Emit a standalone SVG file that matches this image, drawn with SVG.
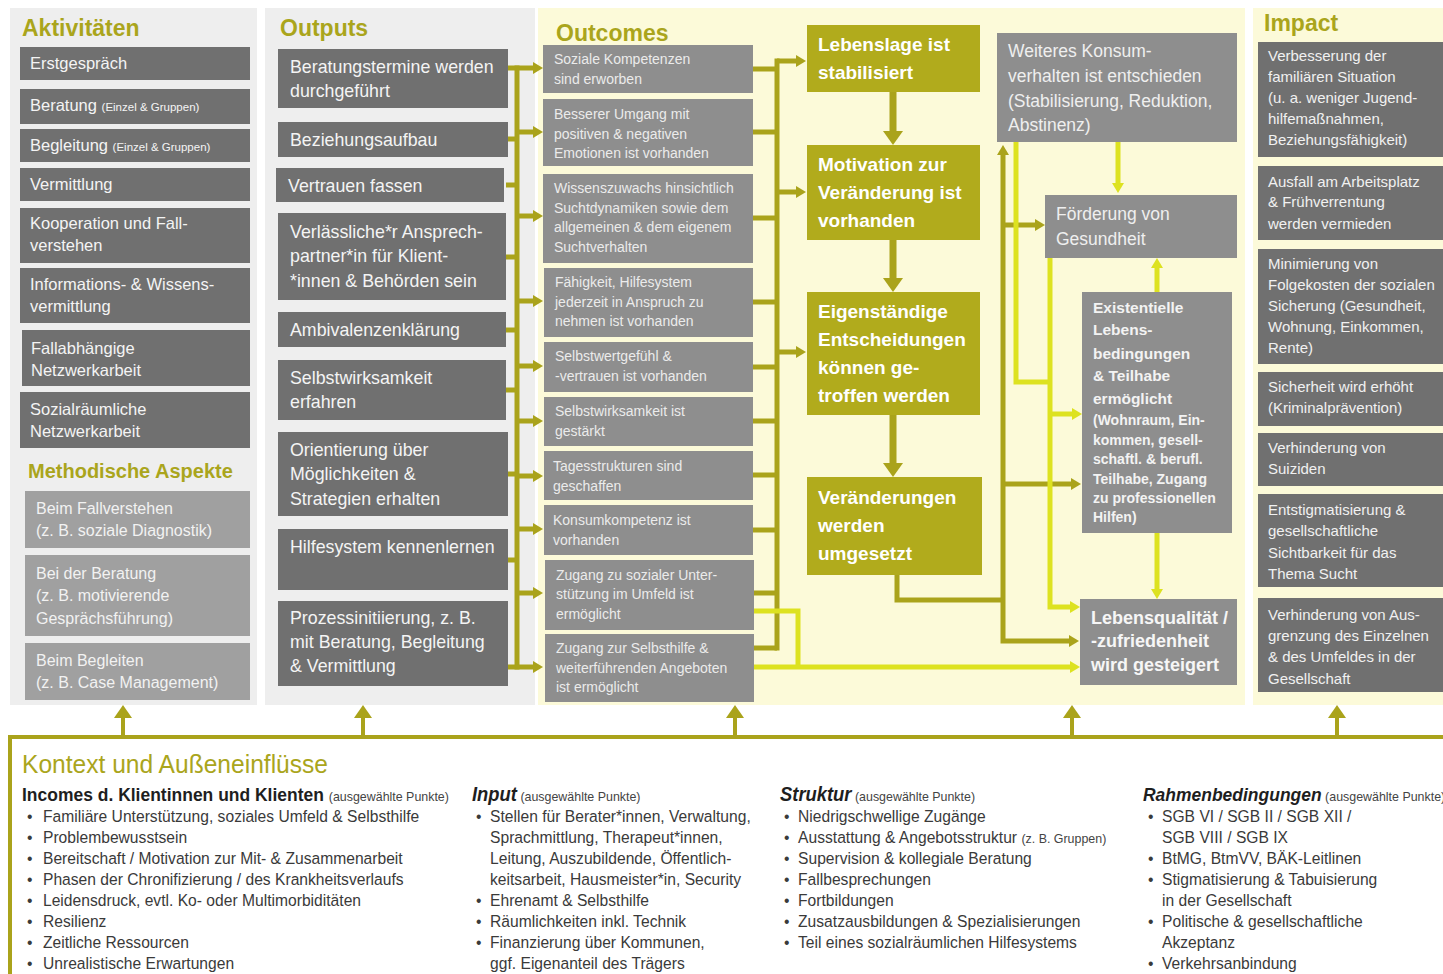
<svg xmlns="http://www.w3.org/2000/svg" width="1443" height="974" viewBox="0 0 1443 974">
<defs>
<style>
text{font-family:'Liberation Sans',Arial,sans-serif}
.h{font-weight:bold;font-size:23px;fill:#aaa51c}
.pg{fill:#eeeeee}
.py{fill:#fcfad9}
.dk{fill:#707070}
.md{fill:#8e8e8e}
.lt{fill:#a0a0a0}
.ol{fill:#b1ab1c}
.ta{font-size:16.5px;fill:#f4f4f4}
.sm{font-size:11.5px}
.tm{font-size:16px;fill:#f2f2f2}
.to{font-size:17.8px;fill:#f4f4f4}
.tc{font-size:14px;fill:#ebebeb}
.tb{font-size:19px;font-weight:bold;fill:#ffffff}
.tr{font-size:17.5px;fill:#efefef}
.te{font-size:15.5px;font-weight:bold;fill:#f3f3f3}
.te2{font-size:14px;font-weight:bold;fill:#f3f3f3}
.tl{font-size:18px;font-weight:bold;fill:#f6f6f6}
.ti{font-size:15px;fill:#f1f1f1}
.co{fill:none;stroke:#aaa31b;stroke-width:5}
.cy{fill:none;stroke:#dde220;stroke-width:5}
.cb{fill:none;stroke:#aaa31b;stroke-width:7}
.cf{fill:none;stroke:#aaa31b;stroke-width:4}
.bt{font-size:17px;fill:#3a3a3a}
.bh{font-size:19px;font-weight:bold;fill:#1e1e1e}
.bi{font-size:20px;font-weight:bold;font-style:italic;fill:#1e1e1e}
.bs{font-size:13.5px;font-weight:normal;font-style:normal;fill:#444444}
.kt{font-size:25px;fill:#aaa51c}
</style>
<marker id="aO" viewBox="0 0 10 10" refX="0" refY="5" markerWidth="10" markerHeight="12" markerUnits="userSpaceOnUse" orient="auto" preserveAspectRatio="none"><path d="M0,0L10,5L0,10z" fill="#aaa31b"/></marker>
<marker id="aOs" viewBox="0 0 10 10" refX="0" refY="5" markerWidth="10" markerHeight="12" markerUnits="userSpaceOnUse" orient="auto-start-reverse" preserveAspectRatio="none"><path d="M0,0L10,5L0,10z" fill="#aaa31b"/></marker>
<marker id="aY" viewBox="0 0 10 10" refX="0" refY="5" markerWidth="10" markerHeight="12" markerUnits="userSpaceOnUse" orient="auto" preserveAspectRatio="none"><path d="M0,0L10,5L0,10z" fill="#dde220"/></marker>
<marker id="aOB" viewBox="0 0 10 10" refX="0" refY="5" markerWidth="14" markerHeight="20" markerUnits="userSpaceOnUse" orient="auto" preserveAspectRatio="none"><path d="M0,0L10,5L0,10z" fill="#aaa31b"/></marker>
<marker id="aF" viewBox="0 0 10 10" refX="0" refY="5" markerWidth="13" markerHeight="18" markerUnits="userSpaceOnUse" orient="auto" preserveAspectRatio="none"><path d="M0,0L10,5L0,10z" fill="#aaa31b"/></marker>
</defs>
<rect width="1443" height="974" fill="#ffffff"/>
<g id="panels">
<rect class="pg" x="10" y="8" width="247" height="697"/>
<rect class="pg" x="265" y="8" width="270" height="697"/>
<rect class="py" x="538" y="8" width="707" height="697"/>
<rect class="py" x="1253" y="8" width="190" height="697"/>
</g>
<g id="titles">
<text class="h" x="22" y="36">Aktivitäten</text>
<text class="h" x="280" y="36">Outputs</text>
<text class="h" x="556" y="41">Outcomes</text>
<text class="h" x="1264" y="31">Impact</text>
<text class="h" x="28" y="478" style="font-size:20px">Methodische Aspekte</text>
</g>
<g id="aktivitaeten">
<g id="a1"><rect class="dk" x="20" y="47" width="230" height="33"/><text class="ta" x="30" y="69">Erstgespräch</text></g>
<g id="a2"><rect class="dk" x="20" y="89" width="230" height="35"/><text class="ta" x="30" y="111">Beratung <tspan class="sm">(Einzel &amp; Gruppen)</tspan></text></g>
<g id="a3"><rect class="dk" x="20" y="129" width="230" height="33"/><text class="ta" x="30" y="151">Begleitung <tspan class="sm">(Einzel &amp; Gruppen)</tspan></text></g>
<g id="a4"><rect class="dk" x="20" y="168" width="230" height="33"/><text class="ta" x="30" y="190">Vermittlung</text></g>
<g id="a5"><rect class="dk" x="20" y="208" width="230" height="55"/><text class="ta" x="30" y="229">Kooperation und Fall-</text><text class="ta" x="30" y="251">verstehen</text></g>
<g id="a6"><rect class="dk" x="20" y="268" width="230" height="55"/><text class="ta" x="30" y="290">Informations- &amp; Wissens-</text><text class="ta" x="30" y="312">vermittlung</text></g>
<g id="a7"><rect class="dk" x="22" y="330" width="228" height="56"/><text class="ta" x="31" y="354">Fallabhängige</text><text class="ta" x="31" y="376">Netzwerkarbeit</text></g>
<g id="a8"><rect class="dk" x="20" y="392" width="230" height="56"/><text class="ta" x="30" y="415">Sozialräumliche</text><text class="ta" x="30" y="437">Netzwerkarbeit</text></g>
<g id="m1"><rect class="lt" x="25" y="491" width="225" height="57"/><text class="tm" x="36" y="514">Beim Fallverstehen</text><text class="tm" x="36" y="536">(z. B. soziale Diagnostik)</text></g>
<g id="m2"><rect class="lt" x="25" y="555" width="225" height="81"/><text class="tm" x="36" y="579">Bei der Beratung</text><text class="tm" x="36" y="601">(z. B. motivierende</text><text class="tm" x="36" y="624">Gesprächsführung)</text></g>
<g id="m3"><rect class="lt" x="25" y="643" width="225" height="57"/><text class="tm" x="36" y="666">Beim Begleiten</text><text class="tm" x="36" y="688">(z. B. Case Management)</text></g>
</g>
<g id="outputs">
<g id="o1"><rect class="dk" x="278" y="49" width="230" height="59"/><text class="to" x="290" y="73">Beratungstermine werden</text><text class="to" x="290" y="97">durchgeführt</text></g>
<g id="o2"><rect class="dk" x="278" y="122" width="230" height="35"/><text class="to" x="290" y="146">Beziehungsaufbau</text></g>
<g id="o3"><rect class="dk" x="276" y="168" width="228" height="34"/><text class="to" x="288" y="192">Vertrauen fassen</text></g>
<g id="o4"><rect class="dk" x="278" y="213" width="228" height="87"/><text class="to" x="290" y="238">Verlässliche*r Ansprech-</text><text class="to" x="290" y="262">partner*in für Klient-</text><text class="to" x="290" y="287">*innen &amp; Behörden sein</text></g>
<g id="o5"><rect class="dk" x="278" y="312" width="228" height="35"/><text class="to" x="290" y="336">Ambivalenzenklärung</text></g>
<g id="o6"><rect class="dk" x="278" y="360" width="228" height="60"/><text class="to" x="290" y="384">Selbstwirksamkeit</text><text class="to" x="290" y="408">erfahren</text></g>
<g id="o7"><rect class="dk" x="278" y="432" width="230" height="84"/><text class="to" x="290" y="456">Orientierung über</text><text class="to" x="290" y="480">Möglichkeiten &amp;</text><text class="to" x="290" y="505">Strategien erhalten</text></g>
<g id="o8"><rect class="dk" x="278" y="529" width="230" height="61"/><text class="to" x="290" y="553">Hilfesystem kennenlernen</text></g>
<g id="o9"><rect class="dk" x="278" y="601" width="230" height="85"/><text class="to" x="290" y="624">Prozessinitiierung, z. B.</text><text class="to" x="290" y="648">mit Beratung, Begleitung</text><text class="to" x="290" y="672">&amp; Vermittlung</text></g>
</g>
<g id="outcomes">
<g id="c1"><rect class="md" x="543" y="45" width="210" height="48"/><text class="tc" x="554" y="64">Soziale Kompetenzen</text><text class="tc" x="554" y="84">sind erworben</text></g>
<g id="c2"><rect class="md" x="543" y="99" width="210" height="67"/><text class="tc" x="554" y="119">Besserer Umgang mit</text><text class="tc" x="554" y="139">positiven &amp; negativen</text><text class="tc" x="554" y="158">Emotionen ist vorhanden</text></g>
<g id="c3"><rect class="md" x="543" y="174" width="210" height="89"/><text class="tc" x="554" y="193">Wissenszuwachs hinsichtlich</text><text class="tc" x="554" y="213">Suchtdynamiken sowie dem</text><text class="tc" x="554" y="232">allgemeinen &amp; dem eigenem</text><text class="tc" x="554" y="252">Suchtverhalten</text></g>
<g id="c4"><rect class="md" x="544" y="268" width="209" height="69"/><text class="tc" x="555" y="287">Fähigkeit, Hilfesystem</text><text class="tc" x="555" y="307">jederzeit in Anspruch zu</text><text class="tc" x="555" y="326">nehmen ist vorhanden</text></g>
<g id="c5"><rect class="md" x="544" y="342" width="209" height="50"/><text class="tc" x="555" y="361">Selbstwertgefühl &amp;</text><text class="tc" x="555" y="381">-vertrauen ist vorhanden</text></g>
<g id="c6"><rect class="md" x="544" y="397" width="209" height="49"/><text class="tc" x="555" y="416">Selbstwirksamkeit ist</text><text class="tc" x="555" y="436">gestärkt</text></g>
<g id="c7"><rect class="md" x="544" y="451" width="209" height="49"/><text class="tc" x="553" y="471">Tagesstrukturen sind</text><text class="tc" x="553" y="491">geschaffen</text></g>
<g id="c8"><rect class="md" x="544" y="505" width="209" height="50"/><text class="tc" x="553" y="525">Konsumkompetenz ist</text><text class="tc" x="553" y="545">vorhanden</text></g>
<g id="c9"><rect class="md" x="545" y="560" width="209" height="70"/><text class="tc" x="556" y="580">Zugang zu sozialer Unter-</text><text class="tc" x="556" y="599">stützung im Umfeld ist</text><text class="tc" x="556" y="619">ermöglicht</text></g>
<g id="c10"><rect class="md" x="545" y="634" width="209" height="68"/><text class="tc" x="556" y="653">Zugang zur Selbsthilfe &amp;</text><text class="tc" x="556" y="673">weiterführenden Angeboten</text><text class="tc" x="556" y="692">ist ermöglicht</text></g>
</g>
<g id="olive">
<g id="v1"><rect class="ol" x="807" y="25" width="173" height="67"/><text class="tb" x="818" y="51">Lebenslage ist</text><text class="tb" x="818" y="79">stabilisiert</text></g>
<g id="v2"><rect class="ol" x="807" y="145" width="173" height="95"/><text class="tb" x="818" y="171">Motivation zur</text><text class="tb" x="818" y="199">Veränderung ist</text><text class="tb" x="818" y="227">vorhanden</text></g>
<g id="v3"><rect class="ol" x="807" y="292" width="173" height="123"/><text class="tb" x="818" y="318">Eigenständige</text><text class="tb" x="818" y="346">Entscheidungen</text><text class="tb" x="818" y="374">können ge-</text><text class="tb" x="818" y="402">troffen werden</text></g>
<g id="v4"><rect class="ol" x="807" y="477" width="175" height="98"/><text class="tb" x="818" y="504">Veränderungen</text><text class="tb" x="818" y="532">werden</text><text class="tb" x="818" y="560">umgesetzt</text></g>
</g>
<g id="right">
<g id="r1"><rect class="md" x="997" y="33" width="240" height="109"/><text class="tr" x="1008" y="57">Weiteres Konsum-</text><text class="tr" x="1008" y="82">verhalten ist entschieden</text><text class="tr" x="1008" y="107">(Stabilisierung, Reduktion,</text><text class="tr" x="1008" y="131">Abstinenz)</text></g>
<g id="r2"><rect class="md" x="1045" y="195" width="192" height="63"/><text class="tr" x="1056" y="220">Förderung von</text><text class="tr" x="1056" y="245">Gesundheit</text></g>
<g id="r3"><rect class="md" x="1082" y="292" width="150" height="241"/><text class="te" x="1093" y="313">Existentielle</text><text class="te" x="1093" y="335">Lebens-</text><text class="te" x="1093" y="359">bedingungen</text><text class="te" x="1093" y="381">&amp; Teilhabe</text><text class="te" x="1093" y="404">ermöglicht</text><text class="te2" x="1093" y="425">(Wohnraum, Ein-</text><text class="te2" x="1093" y="445">kommen, gesell-</text><text class="te2" x="1093" y="464">schaftl. &amp; berufl.</text><text class="te2" x="1093" y="484">Teilhabe, Zugang</text><text class="te2" x="1093" y="503">zu professionellen</text><text class="te2" x="1093" y="522">Hilfen)</text></g>
<g id="r4"><rect class="md" x="1080" y="599" width="157" height="86"/><text class="tl" x="1091" y="624">Lebensqualität /</text><text class="tl" x="1091" y="647">-zufriedenheit</text><text class="tl" x="1091" y="671">wird gesteigert</text></g>
</g>
<g id="impact">
<g id="i1"><rect class="dk" x="1258" y="42" width="185" height="115"/><text class="ti" x="1268" y="61">Verbesserung der</text><text class="ti" x="1268" y="82">familiären Situation</text><text class="ti" x="1268" y="103">(u. a. weniger Jugend-</text><text class="ti" x="1268" y="124">hilfemaßnahmen,</text><text class="ti" x="1268" y="145">Beziehungsfähigkeit)</text></g>
<g id="i2"><rect class="dk" x="1258" y="166" width="185" height="74"/><text class="ti" x="1268" y="187">Ausfall am Arbeitsplatz</text><text class="ti" x="1268" y="207">&amp; Frühverrentung</text><text class="ti" x="1268" y="229">werden vermieden</text></g>
<g id="i3"><rect class="dk" x="1258" y="249" width="185" height="115"/><text class="ti" x="1268" y="269">Minimierung von</text><text class="ti" x="1268" y="290">Folgekosten der sozialen</text><text class="ti" x="1268" y="311">Sicherung (Gesundheit,</text><text class="ti" x="1268" y="332">Wohnung, Einkommen,</text><text class="ti" x="1268" y="353">Rente)</text></g>
<g id="i4"><rect class="dk" x="1258" y="372" width="185" height="54"/><text class="ti" x="1268" y="392">Sicherheit wird erhöht</text><text class="ti" x="1268" y="413">(Kriminalprävention)</text></g>
<g id="i5"><rect class="dk" x="1258" y="433" width="185" height="53"/><text class="ti" x="1268" y="453">Verhinderung von</text><text class="ti" x="1268" y="474">Suiziden</text></g>
<g id="i6"><rect class="dk" x="1258" y="494" width="185" height="93"/><text class="ti" x="1268" y="515">Entstigmatisierung &amp;</text><text class="ti" x="1268" y="536">gesellschaftliche</text><text class="ti" x="1268" y="558">Sichtbarkeit für das</text><text class="ti" x="1268" y="579">Thema Sucht</text></g>
<g id="i7"><rect class="dk" x="1258" y="598" width="185" height="94"/><text class="ti" x="1268" y="620">Verhinderung von Aus-</text><text class="ti" x="1268" y="641">grenzung des Einzelnen</text><text class="ti" x="1268" y="662">&amp; des Umfeldes in der</text><text class="ti" x="1268" y="684">Gesellschaft</text></g>
</g>
<g id="connectors">
<path class="co" d="M517,65.5V669.5"/>
<path class="co" d="M508,139H517M506,185H517M506,257H517M506,330H517M506,390H517M508,474H517M508,560H517"/>
<path class="co" marker-end="url(#aO)" d="M508,68H533"/>
<path class="co" marker-end="url(#aO)" d="M517,132H533"/>
<path class="co" marker-end="url(#aO)" d="M517,216H533"/>
<path class="co" marker-end="url(#aO)" d="M517,301H533"/>
<path class="co" marker-end="url(#aO)" d="M517,366H533"/>
<path class="co" marker-end="url(#aO)" d="M517,421H533"/>
<path class="co" marker-end="url(#aO)" d="M517,476H533"/>
<path class="co" marker-end="url(#aO)" d="M517,529H533"/>
<path class="co" marker-end="url(#aO)" d="M517,593H533"/>
<path class="co" marker-end="url(#aO)" d="M508,667H533"/>
<path class="co" d="M777,58.5V650.5"/>
<path class="co" d="M753,69H777M753,132H777M753,218H777M753,302H777M753,367H777M753,421H777M753,475H777M753,530H777M754,593H777M754,648H777"/>
<path class="co" marker-end="url(#aO)" d="M777,61H796"/>
<path class="co" marker-end="url(#aO)" d="M777,192H796"/>
<path class="co" marker-end="url(#aO)" d="M777,352H796"/>
<path class="cb" marker-end="url(#aOB)" d="M893,92V131"/>
<path class="cb" marker-end="url(#aOB)" d="M893,240V278"/>
<path class="cb" marker-end="url(#aOB)" d="M893,415V463"/>
<path class="co" d="M897,575V600H1003"/>
<path class="co" marker-start="url(#aOs)" marker-end="url(#aO)" d="M1003,155V641H1069"/>
<path class="co" marker-end="url(#aO)" d="M1003,225H1035"/>
<path class="co" marker-end="url(#aO)" d="M1003,484H1071"/>
<path class="cy" d="M1016,142V382H1050"/>
<path class="cy" marker-end="url(#aY)" d="M1050,258V607H1070"/>
<path class="cy" marker-end="url(#aY)" d="M1050,414H1072"/>
<path class="cy" marker-end="url(#aY)" d="M1118,142V183"/>
<path class="cy" marker-end="url(#aY)" d="M1157,292V268"/>
<path class="cy" marker-end="url(#aY)" d="M1157,533V589"/>
<path class="cy" d="M754,611H798V667"/>
<path class="cy" marker-end="url(#aY)" d="M754,667H1070"/>
<path class="cf" d="M10,974V737H1443"/>
<path class="cf" marker-end="url(#aF)" d="M123,737V718"/>
<path class="cf" marker-end="url(#aF)" d="M363,737V718"/>
<path class="cf" marker-end="url(#aF)" d="M735,737V718"/>
<path class="cf" marker-end="url(#aF)" d="M1072,737V718"/>
<path class="cf" marker-end="url(#aF)" d="M1337,737V718"/>
</g>
<g id="kontext">
<text class="kt" x="22" y="773" textLength="306" lengthAdjust="spacingAndGlyphs">Kontext und Außeneinflüsse</text>
<g id="k1" transform="translate(22,0) scale(0.92,1)">
<text class="bh" x="0" y="801">Incomes d. Klientinnen und Klienten <tspan class="bs">(ausgewählte Punkte)</tspan></text>
<text class="bt" x="5.4" y="822">•</text><text class="bt" x="22.8" y="822">Familiäre Unterstützung, soziales Umfeld &amp; Selbsthilfe</text>
<text class="bt" x="5.4" y="843">•</text><text class="bt" x="22.8" y="843">Problembewusstsein</text>
<text class="bt" x="5.4" y="864">•</text><text class="bt" x="22.8" y="864">Bereitschaft / Motivation zur Mit- &amp; Zusammenarbeit</text>
<text class="bt" x="5.4" y="885">•</text><text class="bt" x="22.8" y="885">Phasen der Chronifizierung / des Krankheitsverlaufs</text>
<text class="bt" x="5.4" y="906">•</text><text class="bt" x="22.8" y="906">Leidensdruck, evtl. Ko- oder Multimorbiditäten</text>
<text class="bt" x="5.4" y="927">•</text><text class="bt" x="22.8" y="927">Resilienz</text>
<text class="bt" x="5.4" y="948">•</text><text class="bt" x="22.8" y="948">Zeitliche Ressourcen</text>
<text class="bt" x="5.4" y="969">•</text><text class="bt" x="22.8" y="969">Unrealistische Erwartungen</text>
</g>
<g id="k2" transform="translate(472,0) scale(0.92,1)">
<text class="bi" x="0" y="801">Input<tspan class="bs"> (ausgewählte Punkte)</tspan></text>
<text class="bt" x="4.3" y="822">•</text><text class="bt" x="19.6" y="822">Stellen für Berater*innen, Verwaltung,</text>
<text class="bt" x="19.6" y="843">Sprachmittlung, Therapeut*innen,</text>
<text class="bt" x="19.6" y="864">Leitung, Auszubildende, Öffentlich-</text>
<text class="bt" x="19.6" y="885">keitsarbeit, Hausmeister*in, Security</text>
<text class="bt" x="4.3" y="906">•</text><text class="bt" x="19.6" y="906">Ehrenamt &amp; Selbsthilfe</text>
<text class="bt" x="4.3" y="927">•</text><text class="bt" x="19.6" y="927">Räumlichkeiten inkl. Technik</text>
<text class="bt" x="4.3" y="948">•</text><text class="bt" x="19.6" y="948">Finanzierung über Kommunen,</text>
<text class="bt" x="19.6" y="969">ggf. Eigenanteil des Trägers</text>
</g>
<g id="k3" transform="translate(780,0) scale(0.92,1)">
<text class="bi" x="0" y="801">Struktur<tspan class="bs"> (ausgewählte Punkte)</tspan></text>
<text class="bt" x="4.3" y="822">•</text><text class="bt" x="19.6" y="822">Niedrigschwellige Zugänge</text>
<text class="bt" x="4.3" y="843">•</text><text class="bt" x="19.6" y="843">Ausstattung &amp; Angebotsstruktur <tspan class="bs">(z. B. Gruppen)</tspan></text>
<text class="bt" x="4.3" y="864">•</text><text class="bt" x="19.6" y="864">Supervision &amp; kollegiale Beratung</text>
<text class="bt" x="4.3" y="885">•</text><text class="bt" x="19.6" y="885">Fallbesprechungen</text>
<text class="bt" x="4.3" y="906">•</text><text class="bt" x="19.6" y="906">Fortbildungen</text>
<text class="bt" x="4.3" y="927">•</text><text class="bt" x="19.6" y="927">Zusatzausbildungen &amp; Spezialisierungen</text>
<text class="bt" x="4.3" y="948">•</text><text class="bt" x="19.6" y="948">Teil eines sozialräumlichen Hilfesystems</text>
</g>
<g id="k4" transform="translate(1143,0) scale(0.92,1)">
<text class="bi" x="0" y="801" style="font-size:19px">Rahmenbedingungen<tspan class="bs"> (ausgewählte Punkte)</tspan></text>
<text class="bt" x="5.4" y="822">•</text><text class="bt" x="20.7" y="822">SGB VI / SGB II / SGB XII /</text>
<text class="bt" x="20.7" y="843">SGB VIII / SGB IX</text>
<text class="bt" x="5.4" y="864">•</text><text class="bt" x="20.7" y="864">BtMG, BtmVV, BÄK-Leitlinen</text>
<text class="bt" x="5.4" y="885">•</text><text class="bt" x="20.7" y="885">Stigmatisierung &amp; Tabuisierung</text>
<text class="bt" x="20.7" y="906">in der Gesellschaft</text>
<text class="bt" x="5.4" y="927">•</text><text class="bt" x="20.7" y="927">Politische &amp; gesellschaftliche</text>
<text class="bt" x="20.7" y="948">Akzeptanz</text>
<text class="bt" x="5.4" y="969">•</text><text class="bt" x="20.7" y="969">Verkehrsanbindung</text>
</g>
</g>
</svg>
